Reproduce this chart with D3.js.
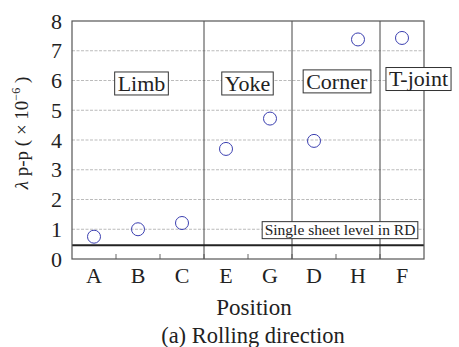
<!DOCTYPE html>
<html>
<head>
<meta charset="utf-8">
<script src="https://cdn.jsdelivr.net/npm/d3@7"></script>
<style>
  body { margin: 0; background: #fff; }
</style>
</head>
<body>
<div id="container"></div>
<script>
// data
let positions = ["A", "B", "C", "E", "G", "D", "H", "F"];
let lambdaPP = [0.75, 1.0, 1.21, 3.70, 4.72, 3.97, 7.38, 7.43];
let yTicks = [0, 1, 2, 3, 4, 5, 6, 7, 8];
let singleSheetLevel = 0.46;
// groups of positions, with the label for each
let groupNames = ["Limb", "Yoke", "Corner", "T-joint"];
let groupFirst = ["A", "E", "D", "F"];

let w = 459;
let h = 347;
let padLeft = 72, padRight = 424, padTop = 21, padBottom = 259;
let serif = "Liberation Serif";

let viz = d3.select("#container")
  .append("svg")
    .attr("width", w)
    .attr("height", h);

let xScale = d3.scaleBand().domain(positions).range([padLeft, padRight]);
let yScale = d3.scaleLinear().domain([0, 8]).range([padBottom, padTop]);

// dashed gridlines
viz.append("g").selectAll("line")
  .data(yTicks.slice(1, -1))
  .enter().append("line")
    .attr("x1", padLeft).attr("x2", padRight)
    .attr("y1", d => yScale(d)).attr("y2", d => yScale(d))
    .attr("stroke", "#aaa")
    .attr("stroke-width", 0.8)
    .attr("stroke-dasharray", "3,1.5");

// y axis labels (no tick marks)
let yAxis = d3.axisLeft(yScale).tickValues(yTicks).tickSize(0).tickPadding(10);
let yAxisGroup = viz.append("g")
  .attr("transform", "translate(" + padLeft + ",0)")
  .call(yAxis);
yAxisGroup.select(".domain").remove();
yAxisGroup.selectAll("text")
  .attr("font-family", serif)
  .style("font-family", serif)
  .attr("font-size", 22)
  .attr("fill", "#222");

// x axis labels with small inner ticks at band boundaries
let xAxis = d3.axisBottom(xScale).tickSize(0).tickPadding(8);
let xAxisGroup = viz.append("g")
  .attr("transform", "translate(0," + padBottom + ")")
  .call(xAxis);
xAxisGroup.select(".domain").remove();
xAxisGroup.selectAll("text")
  .attr("font-family", serif)
  .style("font-family", serif)
  .attr("font-size", 22)
  .attr("fill", "#222");

viz.append("g").selectAll("line")
  .data(positions.slice(1))
  .enter().append("line")
    .attr("x1", d => xScale(d)).attr("x2", d => xScale(d))
    .attr("y1", padBottom).attr("y2", padBottom - 5)
    .attr("stroke", "#666")
    .attr("stroke-width", 1);

// group separators
viz.append("g").selectAll("line")
  .data(groupFirst.slice(1))
  .enter().append("line")
    .attr("x1", d => xScale(d)).attr("x2", d => xScale(d))
    .attr("y1", padTop).attr("y2", padBottom)
    .attr("stroke", "#444")
    .attr("stroke-width", 1);

// single sheet level line
viz.append("line")
  .attr("x1", padLeft).attr("x2", padRight)
  .attr("y1", yScale(singleSheetLevel)).attr("y2", yScale(singleSheetLevel))
  .attr("stroke", "#222")
  .attr("stroke-width", 2);

// frame
viz.append("rect")
  .attr("x", padLeft).attr("y", padTop)
  .attr("width", padRight - padLeft).attr("height", padBottom - padTop)
  .attr("fill", "none")
  .attr("stroke", "#555")
  .attr("stroke-width", 1.2);

// data points
viz.append("g").selectAll("circle")
  .data(positions)
  .enter().append("circle")
    .attr("cx", d => xScale(d) + xScale.bandwidth() / 2)
    .attr("cy", (d, i) => yScale(lambdaPP[i]))
    .attr("r", 6.5)
    .attr("fill", "none")
    .attr("stroke", "#3b3fb0")
    .attr("stroke-width", 1);

function serifText(sel, size) {
  return sel.append("text")
    .attr("font-family", serif)
    .style("font-family", serif)
    .attr("font-size", size)
    .attr("fill", "#222");
}

// boxed labels
function boxLabel(x, y, txt, size, pad, boxH) {
  let g = viz.append("g");
  let t = serifText(g, size)
    .attr("x", x).attr("y", y + size * 0.33)
    .attr("text-anchor", "middle")
    .text(txt);
  let bb = t.node().getBBox();
  g.insert("rect", "text")
    .attr("x", bb.x - pad).attr("y", y - boxH / 2)
    .attr("width", bb.width + pad * 2).attr("height", boxH)
    .attr("fill", "#fff")
    .attr("stroke", "#333")
    .attr("stroke-width", 1);
}

let groupCenters = [141.5, 247.5, 336.7, 418.5];
let groupY = [5.9, 5.9, 5.97, 6.05];
groupNames.forEach(function(name, i) {
  boxLabel(groupCenters[i], yScale(groupY[i]), name, 22, 3, 23);
});

boxLabel(340, yScale(0.97), "Single sheet level in RD", 15.5, 2.5, 17);

// axis titles
let yTitle = serifText(viz, 19)
  .attr("transform", "translate(28,133) rotate(-90)")
  .attr("text-anchor", "middle");
yTitle.append("tspan").attr("font-style", "italic").text("λ");
yTitle.append("tspan").text(" p-p ( × 10");
yTitle.append("tspan").attr("font-size", 12).attr("dy", -8).text("−6");
yTitle.append("tspan").attr("dy", 8).text(" )");

serifText(viz, 23)
  .attr("x", 254).attr("y", 315)
  .attr("text-anchor", "middle")
  .text("Position");

serifText(viz, 22.5)
  .attr("x", 253).attr("y", 343)
  .attr("text-anchor", "middle")
  .text("(a) Rolling direction");
</script>
</body>
</html>
